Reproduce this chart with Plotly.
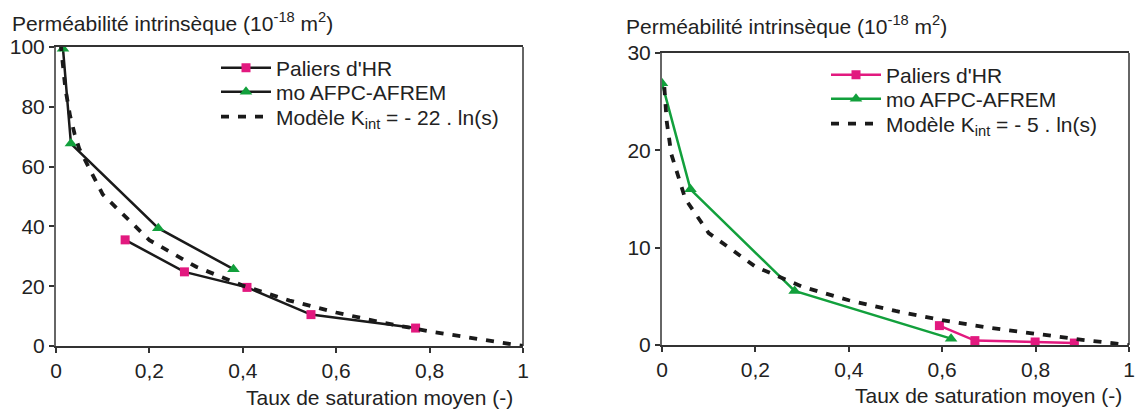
import plotly.graph_objects as go

# ---------- data ----------
# Left chart
left_hr_x = [0.148, 0.275, 0.409, 0.546, 0.770]
left_hr_y = [35.5, 24.8, 19.6, 10.5, 6.0]
left_afpc_x = [0.015, 0.032, 0.219, 0.380]
left_afpc_y = [99.4, 67.7, 39.4, 25.7]
left_model_x = [0.01, 0.02, 0.03, 0.04, 0.05, 0.1, 0.2, 0.3, 0.4, 0.5, 0.6, 0.7, 0.8, 0.9, 1.0]
left_model_y = [101.3, 86.1, 77.1, 70.8, 65.9, 50.7, 35.4, 26.5, 20.2, 15.2, 11.2, 7.8, 4.9, 2.3, 0.0]

# Right chart
right_hr_x = [0.594, 0.670, 0.799, 0.883]
right_hr_y = [1.99, 0.45, 0.31, 0.20]
right_afpc_x = [0.0, 0.061, 0.284, 0.619]
right_afpc_y = [26.9, 16.0, 5.55, 0.65]
right_model_x = [0.005, 0.01, 0.02, 0.05, 0.1, 0.2, 0.3, 0.4, 0.5, 0.6, 0.7, 0.8, 0.9, 1.0]
right_model_y = [26.5, 23.0, 19.6, 15.0, 11.5, 8.05, 6.0, 4.6, 3.5, 2.55, 1.78, 1.12, 0.53, 0.0]

x_ticks = [0, 0.2, 0.4, 0.6, 0.8, 1]
x_tick_labels = ["0", "0,2", "0,4", "0,6", "0,8", "1"]
left_y_ticks = [0, 20, 40, 60, 80, 100]
right_y_ticks = [0, 10, 20, 30]

y_title = "Perméabilité intrinsèque (10<sup>-18</sup> m<sup>2</sup>)"
x_title = "Taux de saturation moyen (-)"
name_hr = "Paliers d'HR"
name_afpc = "mo AFPC-AFREM"
name_model_left = "Modèle K<sub>int</sub> = - 22 . ln(s)"
name_model_right = "Modèle K<sub>int</sub> = - 5 . ln(s)"

PINK = "#E2197F"
GREEN = "#12A03C"
BLACK = "#1a1a1a"
FONT = "Liberation Sans, Arial, sans-serif"

fig = go.Figure()

# ---- left traces ----
fig.add_trace(go.Scatter(x=left_hr_x, y=left_hr_y, mode="lines+markers", name=name_hr,
                         line=dict(color=BLACK, width=2.5),
                         marker=dict(symbol="square", size=9, color=PINK),
                         xaxis="x", yaxis="y", legend="legend", showlegend=True))
fig.add_trace(go.Scatter(x=left_afpc_x, y=left_afpc_y, mode="lines+markers", name=name_afpc,
                         line=dict(color=BLACK, width=2.5),
                         marker=dict(symbol="triangle-up", size=11, color=GREEN),
                         xaxis="x", yaxis="y", legend="legend2", showlegend=True))
fig.add_trace(go.Scatter(x=left_model_x, y=left_model_y, mode="lines", name=name_model_left,
                         line=dict(color=BLACK, width=3.8, dash="8px,9px"),
                         xaxis="x", yaxis="y", legend="legend3", showlegend=True))

# ---- right traces ----
fig.add_trace(go.Scatter(x=right_hr_x, y=right_hr_y, mode="lines+markers", name=name_hr,
                         line=dict(color=PINK, width=2.5),
                         marker=dict(symbol="square", size=9, color=PINK),
                         xaxis="x2", yaxis="y2", legend="legend4", showlegend=True))
fig.add_trace(go.Scatter(x=right_afpc_x, y=right_afpc_y, mode="lines+markers", name=name_afpc,
                         line=dict(color=GREEN, width=2.5),
                         marker=dict(symbol="triangle-up", size=11, color=GREEN),
                         xaxis="x2", yaxis="y2", legend="legend5", showlegend=True))
fig.add_trace(go.Scatter(x=right_model_x, y=right_model_y, mode="lines", name=name_model_right,
                         line=dict(color=BLACK, width=3.8, dash="8px,9px"),
                         xaxis="x2", yaxis="y2", legend="legend6", showlegend=True))

W, H = 1135, 411
TICK_SIZE = 21
TITLE_SIZE = 21
LEG_SIZE = 21

def xaxis(domain, anchor):
    return dict(domain=domain, anchor=anchor, range=[0, 1], tickvals=x_ticks, ticktext=x_tick_labels,
                showgrid=False, zeroline=False, showline=True, linecolor="#333", linewidth=1.5,
                mirror=True, ticks="outside", ticklen=5, tickcolor="#333", tickwidth=1.5,
                automargin=False,
                tickfont=dict(size=TICK_SIZE, color="#222", family=FONT))

def yaxis(domain, anchor, rng, ticks):
    return dict(domain=domain, anchor=anchor, range=rng, tickvals=ticks,
                showgrid=False, zeroline=False, showline=True, linecolor="#666", linewidth=2,
                ticks="outside", ticklen=5, tickcolor="#333", tickwidth=1.5,
                automargin=False,
                tickfont=dict(size=TICK_SIZE, color="#222", family=FONT))

lx = [56 / W, 523 / W]
ly = [1 - 346 / H, 1 - 47 / H]
rx = [662 / W, 1129 / W]
ry = [1 - 345 / H, 1 - 53 / H]

def leg(xpx, ypx):
    return dict(x=xpx / W, y=1 - ypx / H, xanchor="left", yanchor="middle",
                font=dict(size=LEG_SIZE, color="#222", family=FONT),
                bgcolor="rgba(0,0,0,0)", itemwidth=50, visible=True)

fig.update_layout(
    width=W, height=H, margin=dict(l=0, r=0, t=0, b=0, autoexpand=False),
    paper_bgcolor="white", plot_bgcolor="white",
    font=dict(family=FONT, color="#222"),
    showlegend=True,
    xaxis=xaxis(lx, "y"), yaxis=yaxis(ly, "x", [0, 100], left_y_ticks),
    xaxis2=xaxis(rx, "y2"), yaxis2=yaxis(ry, "x2", [0, 30], right_y_ticks),
    legend=leg(216, 68), legend2=leg(216, 92), legend3=leg(216, 117),
    legend4=leg(826, 75), legend5=leg(826, 99), legend6=leg(826, 124),
    shapes=[
        dict(type="line", xref="x domain", yref="y domain", x0=1, x1=1, y0=0, y1=1,
             line=dict(color="#333", width=1.5)),
        dict(type="line", xref="x2 domain", yref="y2 domain", x0=1, x1=1, y0=0, y1=1,
             line=dict(color="#333", width=1.5)),
    ],
    annotations=[
        dict(text=y_title, xref="paper", yref="paper", x=10 / W, y=1 - 22 / H, xanchor="left",
             yanchor="middle", showarrow=False, font=dict(size=TITLE_SIZE, color="#222", family=FONT)),
        dict(text=x_title, xref="paper", yref="paper", x=515 / W, y=1 - 397 / H, xanchor="right",
             yanchor="middle", showarrow=False, font=dict(size=TITLE_SIZE, color="#222", family=FONT)),
        dict(text=y_title, xref="paper", yref="paper", x=624 / W, y=1 - 25 / H, xanchor="left",
             yanchor="middle", showarrow=False, font=dict(size=TITLE_SIZE, color="#222", family=FONT)),
        dict(text=x_title, xref="paper", yref="paper", x=1124 / W, y=1 - 395 / H, xanchor="right",
             yanchor="middle", showarrow=False, font=dict(size=TITLE_SIZE, color="#222", family=FONT)),
    ],
    separators=", ",
)

fig.write_html("out.html")
